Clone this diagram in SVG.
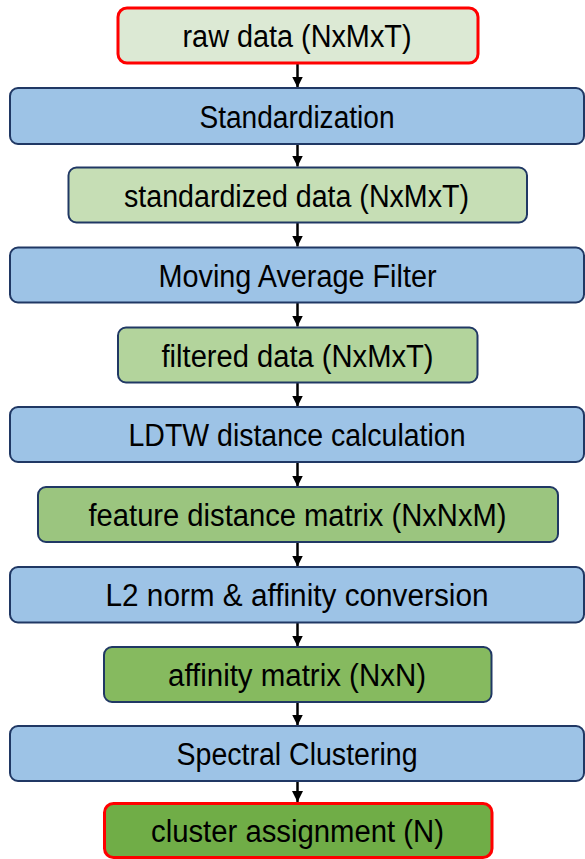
<svg xmlns="http://www.w3.org/2000/svg" width="585" height="859" viewBox="0 0 585 859">
<style>
.b{stroke:#203864;stroke-width:2}
.r{stroke:#ff0000;stroke-width:3}
.blue{fill:#9dc3e6}
text{font-family:"Liberation Sans",Arial,sans-serif;font-size:31px;fill:#000;text-anchor:middle}
.c{stroke:#000;stroke-width:2.5;fill:none}
</style>
<defs>
<marker id="ah" viewBox="0 0 10 10" refX="10" refY="5" markerWidth="11" markerHeight="11" markerUnits="userSpaceOnUse" orient="auto">
<path d="M0,0 L10,5 L0,10 z" fill="#000"/>
</marker>
</defs>
<g id="connectors">
<line class="c" x1="297.5" y1="64" x2="297.5" y2="87.5" marker-end="url(#ah)"/>
<line class="c" x1="297.5" y1="144" x2="297.5" y2="166.5" marker-end="url(#ah)"/>
<line class="c" x1="297.5" y1="223" x2="297.5" y2="246.5" marker-end="url(#ah)"/>
<line class="c" x1="297.5" y1="303" x2="297.5" y2="326.5" marker-end="url(#ah)"/>
<line class="c" x1="297.5" y1="383" x2="297.5" y2="406.5" marker-end="url(#ah)"/>
<line class="c" x1="297.5" y1="463" x2="297.5" y2="486.5" marker-end="url(#ah)"/>
<line class="c" x1="297.5" y1="543" x2="297.5" y2="566.5" marker-end="url(#ah)"/>
<line class="c" x1="297.5" y1="623" x2="297.5" y2="646.5" marker-end="url(#ah)"/>
<line class="c" x1="297.5" y1="703" x2="297.5" y2="725.5" marker-end="url(#ah)"/>
<line class="c" x1="297.5" y1="782" x2="297.5" y2="802" marker-end="url(#ah)"/>
</g>
<g id="raw">
<rect class="r" x="118" y="8" width="360" height="55" rx="9" fill="#dce9d4"/>
<text x="297" y="47" textLength="229" lengthAdjust="spacingAndGlyphs">raw data (NxMxT)</text>
</g>
<g id="standardization">
<rect class="b blue" x="10" y="88" width="574" height="56" rx="8"/>
<text x="297" y="128" textLength="195" lengthAdjust="spacingAndGlyphs">Standardization</text>
</g>
<g id="standardized">
<rect class="b" x="68.5" y="167.5" width="458.5" height="55" rx="8" fill="#c6deb5"/>
<text x="296.5" y="207" textLength="345" lengthAdjust="spacingAndGlyphs">standardized data (NxMxT)</text>
</g>
<g id="maf">
<rect class="b" x="10" y="247.5" width="574" height="55" rx="8" fill="#9dc3e6"/>
<text x="297.5" y="287" textLength="278" lengthAdjust="spacingAndGlyphs">Moving Average Filter</text>
</g>
<g id="filtered">
<rect class="b" x="118" y="327.5" width="359.5" height="55" rx="8" fill="#b3d49c"/>
<text x="297.5" y="367" textLength="272" lengthAdjust="spacingAndGlyphs">filtered data (NxMxT)</text>
</g>
<g id="ldtw">
<rect class="b blue" x="10" y="407" width="574" height="55" rx="8"/>
<text x="297" y="446" textLength="337" lengthAdjust="spacingAndGlyphs">LDTW distance calculation</text>
</g>
<g id="feature">
<rect class="b" x="38" y="487" width="520" height="55" rx="8" fill="#9bc57f"/>
<text x="297.5" y="526" textLength="418" lengthAdjust="spacingAndGlyphs">feature distance matrix (NxNxM)</text>
</g>
<g id="l2">
<rect class="b blue" x="10" y="567" width="574" height="55.5" rx="8"/>
<text x="297" y="606" textLength="383" lengthAdjust="spacingAndGlyphs">L2 norm &amp; affinity conversion</text>
</g>
<g id="affinity">
<rect class="b" x="104" y="647" width="387.5" height="55" rx="8" fill="#86ba5f"/>
<text x="297" y="686" textLength="258" lengthAdjust="spacingAndGlyphs">affinity matrix (NxN)</text>
</g>
<g id="spectral">
<rect class="b blue" x="10" y="726" width="574" height="55" rx="8"/>
<text x="297" y="765" textLength="241" lengthAdjust="spacingAndGlyphs">Spectral Clustering</text>
</g>
<g id="cluster">
<rect class="r" x="104.5" y="803.5" width="387.5" height="54" rx="9" fill="#70ad47"/>
<text x="297.5" y="842" textLength="293" lengthAdjust="spacingAndGlyphs">cluster assignment (N)</text>
</g>
</svg>
